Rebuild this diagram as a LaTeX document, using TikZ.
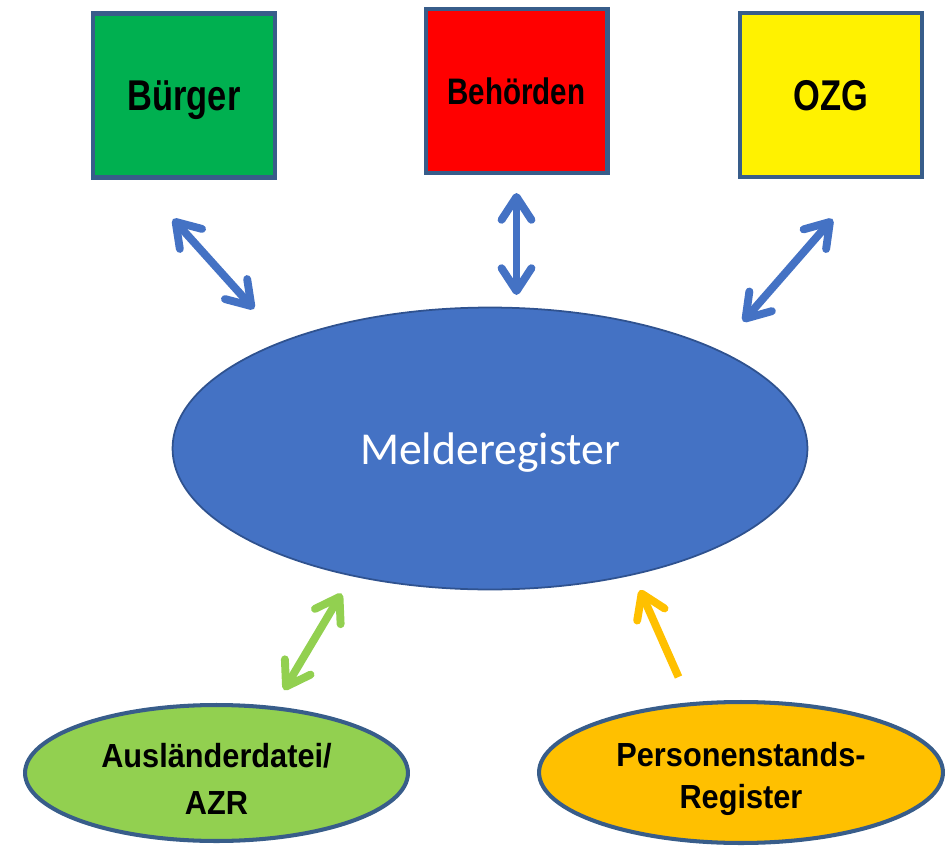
\documentclass[tikz,border=0pt]{standalone}
\usepackage{fontspec}
\usepackage{graphicx}
\usetikzlibrary{shapes.geometric, arrows.meta}

\setmainfont{Liberation Sans}
\newfontfamily\topfont[FakeStretch=0.8]{Liberation Sans Bold}
\newfontfamily\lowfont[FakeStretch=0.92]{Liberation Sans Bold}
\newfontfamily\melfont{Carlito}

\definecolor{boxline}{HTML}{385D8A}
\definecolor{ellline}{HTML}{2F528F}
\definecolor{accblue}{HTML}{4472C4}
\definecolor{accgreen}{HTML}{92D050}
\definecolor{accorange}{HTML}{FFC000}
\definecolor{boxgreen}{HTML}{00B050}

\begin{document}
\begin{tikzpicture}[
    x=0.02cm, y=-0.02cm,
    >={Straight Barb[round, length=13pt, width=17pt]},
    box/.style={draw=boxline, line width=2.3pt, minimum width=3.64cm, minimum height=3.28cm, inner sep=0pt, text depth=0pt},
    source/.style={ellipse, draw=boxline, line width=2.3pt, inner sep=0pt, align=center},
    every edge/.append style={line width=4.5pt}
]
   \useasboundingbox (0,0) rectangle (947,848);

   % Top boxes
   \node[box, fill=boxgreen] (buerger) at (184,95.5) {\topfont\fontsize{24.5}{29}\selectfont Bürger};
   \node[box, fill=red] (behoerden) at (516.5,91) {\topfont\fontsize{21}{25}\selectfont Behörden};
   \node[box, fill=yellow] (ozg) at (831,95) {\topfont\fontsize{24.5}{29}\selectfont OZG};

   % Register in the middle
   \node[ellipse, draw=ellline, line width=1pt, fill=accblue, minimum width=12.7cm, minimum height=5.64cm, inner sep=0pt,
         text depth=0pt, text=white, font=\melfont\fontsize{26}{31}\selectfont] (melde) at (490,448.5) {Melderegister};

   % Sources below
   \node[source, fill=accgreen, minimum width=7.66cm, minimum height=2.72cm,
         font=\lowfont\fontsize{19}{27}\selectfont] (auslaender) at (216.5,773) {\rule{0pt}{0.72cm}Ausländerdatei/\\AZR};
   \node[source, fill=accorange, minimum width=8.08cm, minimum height=2.82cm,
         font=\lowfont\fontsize{19}{23.7}\selectfont] (personen) at (741,772.5) {\rule{0pt}{0.74cm}Personenstands-\\Register};

   % Arrow ends
   \coordinate (bu1) at (173,219);
   \coordinate (bu2) at (254,309);
   \coordinate (be1) at (516.5,193);
   \coordinate (be2) at (516.5,295);
   \coordinate (oz1) at (832.5,219);
   \coordinate (oz2) at (743,321.5);
   \coordinate (au1) at (341.5,593.5);
   \coordinate (au2) at (284,690);
   \coordinate (pe1) at (678.5,677);
   \coordinate (pe2) at (640,590);

   % Arrows
   \path[<->]
   (bu1) edge[draw=accblue] (bu2)
   (be1) edge[draw=accblue] (be2)
   (oz1) edge[draw=accblue] (oz2)

   (au1) edge[draw=accgreen] (au2)
   (pe1) edge[->, draw=accorange] (pe2); % only into the register
\end{tikzpicture}
\end{document}
